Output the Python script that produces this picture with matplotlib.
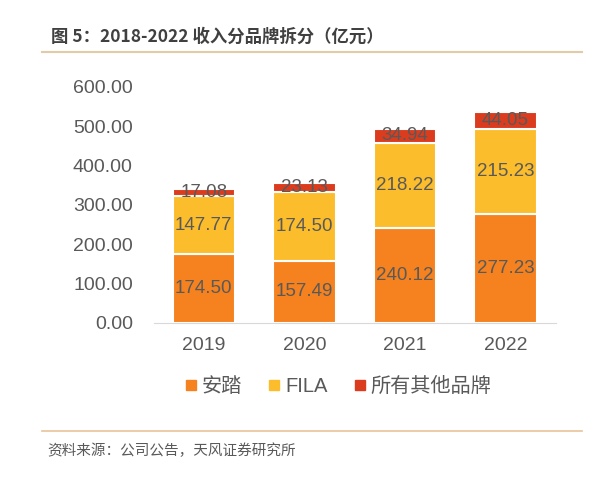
import numpy as np
import matplotlib.pyplot as plt
from matplotlib.lines import Line2D

plt.rcParams['font.family'] = ['Liberation Sans', 'Noto Sans CJK SC', 'DejaVu Sans']

years = ["2019", "2020", "2021", "2022"]
anta = [174.50, 157.49, 240.12, 277.23]
fila = [147.77, 174.50, 218.22, 215.23]
others = [17.08, 23.13, 34.94, 44.05]
series_names = ["安踏", "FILA", "所有其他品牌"]
colors = ["#F5821F", "#FCBD2C", "#DC3C1E"]
txt_color = "#595959"

fig = plt.figure(figsize=(6, 4.82), dpi=100)
ax = fig.add_axes([0.256, 0.330, 0.67, 0.49])

x = np.arange(len(years))
w = 0.62
bottom = np.zeros(len(years))
for vals, c, name in zip([anta, fila, others], colors, series_names):
    ax.bar(x, vals, w, bottom=bottom, color=c, edgecolor="white", linewidth=1.5, label=name)
    for xi, b, v in zip(x, bottom, vals):
        ax.text(xi, b + v / 2, f"{v:.2f}", ha="center", va="center", fontsize=13.5, color=txt_color)
    bottom = bottom + np.array(vals)

ax.set_xlim(-0.5, 3.5)
ax.set_ylim(0, 600)
ax.set_yticks(np.arange(0, 601, 100))
ax.set_yticklabels([f"{v:.2f}" for v in np.arange(0, 601, 100)])
ax.set_xticks(x)
ax.set_xticklabels(years)
ax.tick_params(axis="both", length=0, labelsize=14, colors=txt_color)
ax.tick_params(axis="y", pad=15)
ax.tick_params(axis="x", pad=10)
for s in ["top", "right", "left"]:
    ax.spines[s].set_visible(False)
ax.spines["bottom"].set_color("#d9d9d9")

handles = [Line2D([], [], marker="s", linestyle="none", markersize=7, color=c) for c in colors]
fig.legend(handles, series_names, loc="center", bbox_to_anchor=(0.56, 0.199), ncol=3, frameon=False,
           fontsize=14.5, handletextpad=0.05, handlelength=1.0, columnspacing=1.1, labelcolor=txt_color)

fig.text(0.085, 0.923, "图 5：2018-2022 收入分品牌拆分（亿元）", fontsize=12.5, fontweight="bold",
         color="#404040", va="center", family=['Noto Sans CJK SC', 'DejaVu Sans'])
fig.add_artist(Line2D([0.07, 0.97], [0.893, 0.893], color="#E3CBA8", linewidth=1.5))
fig.add_artist(Line2D([0.07, 0.97], [0.106, 0.106], color="#E8C49A", linewidth=1.2))
fig.text(0.078, 0.064, "资料来源：公司公告，天风证券研究所", fontsize=10.5, color=txt_color, va="center",
         family=['Noto Sans CJK SC', 'DejaVu Sans'])

fig.savefig("out.png", dpi=100)
